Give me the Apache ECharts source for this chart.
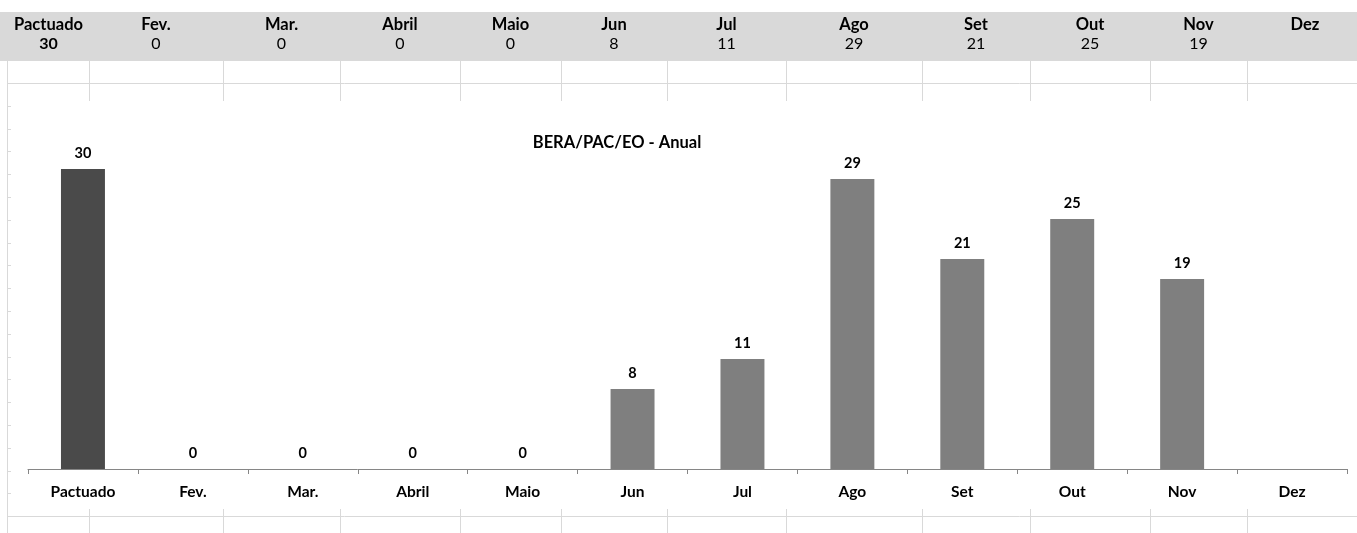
<!DOCTYPE html>
<html>
<head>
<meta charset="utf-8">
<style>
  html, body { margin: 0; padding: 0; background: #fff; }
  #chart { width: 1357px; height: 533px; }
</style>
<script src="https://cdn.jsdelivr.net/npm/echarts@6/dist/echarts.min.js"></script>
</head>
<body>
<div id="chart"></div>
<script>
// Monthly counts for BERA/PAC/EO; the first column is the agreed (pactuado) target
const categories = ['Pactuado', 'Fev.', 'Mar.', 'Abril', 'Maio', 'Jun', 'Jul', 'Ago', 'Set', 'Out', 'Nov', 'Dez'];
const values = [30, 0, 0, 0, 0, 8, 11, 29, 21, 25, 19, null];
const titleText = 'BERA/PAC/EO - Anual';

// Sheet layout: column boundaries of the worksheet behind the chart
const colEdges = [8, 89, 223, 340, 460, 561, 667, 786, 922, 1030, 1150, 1247, 1363];
const FONT = 'Lato, "Open Sans", sans-serif';
const GRID = '#d9d9d9';

const chart = echarts.init(document.getElementById('chart'), null, { renderer: 'canvas' });

const graphics = [];
// header band with the summary row
graphics.push({ type: 'rect', shape: { x: 0, y: 12, width: 1357, height: 49 }, style: { fill: '#d9d9d9' }, silent: true, z: -10 });
categories.forEach((name, i) => {
  const cx = (colEdges[i] + colEdges[i + 1]) / 2;
  graphics.push({ type: 'text', x: cx, y: 25, style: { text: name, font: 'bold 16.5px ' + FONT, fill: '#000', align: 'center', verticalAlign: 'middle' }, silent: true });
  const v = values[i];
  graphics.push({ type: 'text', x: cx, y: 44, style: { text: v == null ? '' : String(v), font: (i === 0 ? 'bold ' : '') + '16px ' + FONT, fill: '#000', align: 'center', verticalAlign: 'middle' }, silent: true });
});
// worksheet gridlines around the chart object
const hLine = (y) => ({ type: 'line', shape: { x1: 7, y1: y, x2: 1357, y2: y }, style: { stroke: GRID, lineWidth: 1 }, silent: true, z: -5 });
graphics.push(hLine(83.5), hLine(516.5));
colEdges.slice(1, -1).forEach((x) => {
  graphics.push({ type: 'line', shape: { x1: x + 0.5, y1: 61, x2: x + 0.5, y2: 101 }, style: { stroke: GRID, lineWidth: 1 }, silent: true, z: -5 });
  graphics.push({ type: 'line', shape: { x1: x + 0.5, y1: 509, x2: x + 0.5, y2: 533 }, style: { stroke: GRID, lineWidth: 1 }, silent: true, z: -5 });
});
graphics.push({ type: 'line', shape: { x1: 7.5, y1: 61, x2: 7.5, y2: 533 }, style: { stroke: GRID, lineWidth: 1 }, silent: true, z: -5 });
for (let k = 1; k < 19; k++) {
  const y = Math.round(83 + k * 22.8) + 0.5;
  graphics.push({ type: 'line', shape: { x1: 7, y1: y, x2: 11, y2: y }, style: { stroke: GRID, lineWidth: 1 }, silent: true, z: -5 });
}

const barData = values.map((v, i) => ({
  value: v,
  itemStyle: { color: i === 0 ? '#4a4a4a' : '#7f7f7f' }
}));

chart.setOption({
  animation: false,
  backgroundColor: '#fff',
  textStyle: { fontFamily: FONT },
  title: {
    text: titleText,
    left: 612,
    top: 129,
    textAlign: 'center',
    textStyle: { fontFamily: FONT, fontSize: 16.5, fontWeight: 'bold', color: '#000' }
  },
  graphic: graphics,
  grid: { left: 28, right: 10, top: 119, bottom: 64, containLabel: false },
  xAxis: {
    type: 'category',
    data: categories,
    boundaryGap: true,
    axisLine: { lineStyle: { color: '#868686', width: 1 } },
    axisTick: { show: true, length: 5, lineStyle: { color: '#868686' } },
    axisLabel: { color: '#000', fontFamily: FONT, fontSize: 15.5, fontWeight: 'bold', margin: 15, interval: 0 }
  },
  yAxis: { type: 'value', min: 0, max: 35, show: false, splitLine: { show: false } },
  series: [{
    type: 'bar',
    data: barData,
    barWidth: '40%',
    label: { show: true, position: 'top', distance: 8, color: '#000', fontFamily: FONT, fontSize: 14.5, fontWeight: 'bold' }
  }]
});
</script>
</body>
</html>
